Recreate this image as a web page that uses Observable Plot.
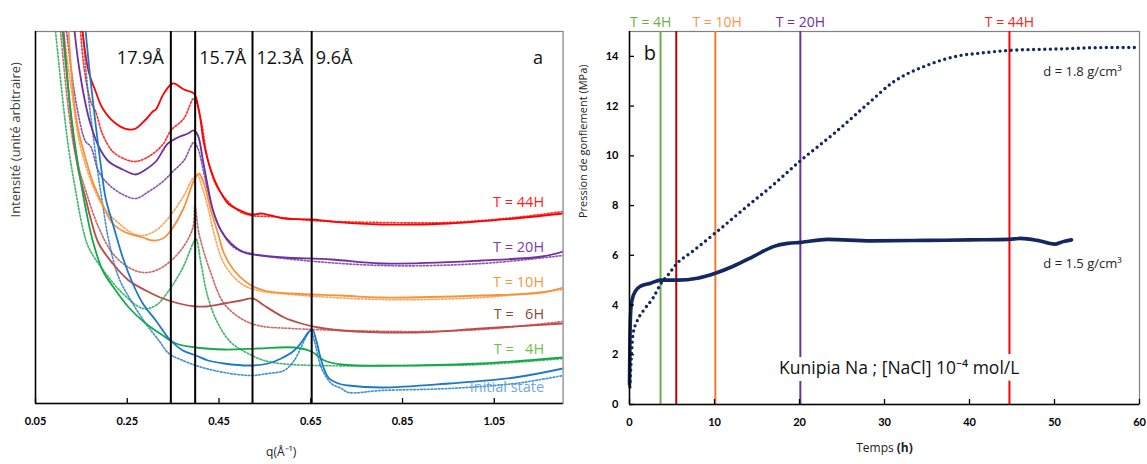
<!DOCTYPE html>
<html><head><meta charset="utf-8">
<script src="https://cdn.jsdelivr.net/npm/d3@7"></script>
<script src="https://cdn.jsdelivr.net/npm/@observablehq/plot@0.6"></script>
<style>
body{margin:0;background:#fff;}
#wrap{position:relative;width:1147px;height:464px;overflow:hidden;background:#fff;}
#pa{position:absolute;left:0;top:0;}
#pb{position:absolute;left:575px;top:0;}
</style></head><body><div id="wrap"><div id="pa"></div><div id="pb"></div></div>
<script>
// ---------- Panel a : intensity vs q (solid = measured curve, dotted = companion curve)
const qTicks = [0.05, 0.25, 0.45, 0.65, 0.85, 1.05];
const dSpacing = ["17.9Å", "15.7Å", "12.3Å", "9.6Å"];
const dSpacingQ = [0.345, 0.398, 0.523, 0.652];
const seriesNames = ["T = 44H", "T = 20H", "T = 10H", "T = \u00a0 6H", "T = \u00a0 4H", "Initial state"];

const q44 = [0.1527,0.1658,0.1811,0.1964,0.2249,0.2533,0.2686,0.2904,0.3057,0.3123,0.3298,0.3495,0.3735,0.3953,0.4063,0.4172,0.4325,0.4478,0.4697,0.4915,0.52,0.5418,0.5637,0.5921,0.6511,0.6948,0.8041,0.9506,1.0948,1.2];
const i44 = [372,332,312,295,280,274,275,284,292,294,310,320,314,310,293,260,233,216,200,194,189,190,188,185,184,182,179,180,185,190];
const q44d = [0.1484,0.1549,0.1702,0.1811,0.1964,0.2183,0.2467,0.2686,0.297,0.3276,0.3451,0.3735,0.3953,0.4107,0.426,0.4478,0.4915,0.52,0.5637,0.6511,0.8041,0.9506,1.0948,1.2];
const i44d = [372,339,302,292,269,252,244,242,247,259,273,285,305,283,243,215,193,188,187,183,181,181,186,192];

const q20 = [0.1352,0.144,0.1593,0.1702,0.1877,0.2096,0.2402,0.2686,0.2904,0.3123,0.3385,0.3604,0.3822,0.3953,0.4041,0.415,0.426,0.4369,0.4544,0.4762,0.5047,0.5418,0.5921,0.6948,0.8041,1.0227,1.1538,1.2];
const i20 = [372,339,299,279,257,242,234,229,234,242,260,266,270,273,268,243,216,193,173,160,151,148,146,144,140,143,147,152];
const q20d = [0.1177,0.1396,0.1593,0.1702,0.1877,0.2096,0.2402,0.2686,0.297,0.3276,0.3495,0.3735,0.3953,0.4041,0.4172,0.4325,0.4544,0.4828,0.52,0.5921,0.8041,1.0227,1.2];
const i20d = [372,298,262,257,232,219,209,205,212,222,232,243,261,255,230,200,173,156,150,145,138,140,148];

const q10 = [0.1221,0.1331,0.144,0.1593,0.1746,0.1964,0.2183,0.2467,0.2839,0.3057,0.3276,0.3451,0.3735,0.3953,0.4063,0.4172,0.4325,0.4478,0.4609,0.4828,0.5134,0.5484,0.6074,0.7167,0.8041,1.0227,1.1538,1.2];
const i10 = [372,305,272,245,222,199,180,171,166,163,165,173,196,223,230,220,193,170,150,133,120,113,110,108,106,108,111,116];
const q10d = [0.1112,0.1309,0.144,0.1593,0.1811,0.203,0.2249,0.262,0.2839,0.3123,0.3407,0.3735,0.3932,0.4041,0.4107,0.426,0.4391,0.4609,0.4981,0.5353,0.6074,0.8041,1.0227,1.2];
const i10d = [372,305,265,238,211,193,183,170,168,173,186,208,225,228,220,196,170,140,120,113,109,104,106,114];

const q6 = [0.1112,0.1309,0.144,0.1593,0.1702,0.1877,0.2183,0.2533,0.2904,0.3276,0.3626,0.3997,0.4216,0.4609,0.4981,0.5243,0.5484,0.5921,0.6292,0.6664,0.7167,0.8762,1.0227,1.2];
const i6 = [372,272,232,205,185,160,140,123,113,105,100,97,97,100,103,105,98,86,80,76,73,71,75,80];
const q6d = [0.1046,0.1221,0.1374,0.1593,0.1877,0.2183,0.2533,0.2839,0.3123,0.3407,0.3713,0.3932,0.3975,0.4063,0.4325,0.4609,0.4981,0.5353,0.6074,0.8762,1.0227,1.2];
const i6d = [372,293,248,213,176,150,136,131,133,141,156,176,198,170,130,100,85,78,75,72,74,82];

const q4 = [0.109,0.1265,0.1396,0.1505,0.1615,0.1746,0.1964,0.2249,0.2533,0.2904,0.3276,0.356,0.3997,0.4609,0.5353,0.6139,0.6511,0.6795,0.7167,0.8762,1.0227,1.2];
const i4 = [372,293,248,217,190,163,133,113,96,80,68,60,56,54,55,56,52,43,39,38,40,46];
const q4d = [0.0937,0.109,0.1221,0.1374,0.1527,0.1658,0.203,0.2402,0.2839,0.3123,0.3407,0.3713,0.3932,0.3997,0.4107,0.426,0.4478,0.4762,0.5134,0.5484,0.6074,0.8762,1.0227,1.2];
const i4d = [372,305,255,213,176,156,130,110,95,98,113,136,160,165,140,106,80,61,50,43,39,38,39,45];

const q0 = [0.1593,0.1702,0.1811,0.1921,0.203,0.2183,0.2402,0.262,0.2839,0.3123,0.3407,0.3713,0.3997,0.426,0.4609,0.52,0.5571,0.5855,0.6139,0.6292,0.6445,0.6533,0.662,0.6729,0.6882,0.7101,0.732,0.8041,0.9506,1.0948,1.2];
const i0 = [372,322,279,239,205,180,146,120,100,83,65,53,48,43,40,38,40,45,53,61,71,74,63,43,26,20,18,16,20,26,35];
const q0d = [0.1527,0.1658,0.1746,0.1855,0.1964,0.2096,0.2314,0.262,0.2904,0.3189,0.3407,0.3713,0.3997,0.4216,0.4609,0.52,0.5571,0.5921,0.6139,0.6358,0.6489,0.6576,0.6729,0.6948,0.7167,0.732,0.8041,0.9506,1.0948,1.2];
const i0d = [372,305,272,232,199,163,126,100,80,63,50,43,38,35,31,28,30,33,43,63,73,63,36,20,15,11,13,15,20,28];

// ---------- Panel b : swelling pressure vs time
const tTicks = [0, 10, 20, 30, 40, 50, 60];
const pTicks = [0, 2, 4, 6, 8, 10, 12, 14];
const t15 = [0,0.05,0.15,0.3,0.7,1.3,2.5,3.65,5.6,8,10.1,12.2,14.6,17,18.6,20.1,23.3,28.4,35,40,44.7,46,48,50,51,52];
const p15 = [0.8,2.5,3.8,4.2,4.56,4.76,4.88,5.0,5.0,5.08,5.28,5.56,5.96,6.36,6.48,6.52,6.64,6.58,6.6,6.62,6.64,6.68,6.6,6.45,6.55,6.62];
const t18 = [0.05,0.2,0.4,0.9,1.6,2.8,3.65,4.6,5.6,7.2,10.1,13.8,17,20.1,24,28,31,35,39,41,44.7,50.7,55,60];
const p18 = [0.7,1.8,2.8,3.36,3.76,4.3,4.84,5.24,5.68,6.1,6.9,7.96,8.86,9.8,10.88,12.08,12.96,13.64,14.04,14.12,14.24,14.3,14.35,14.36];
const timeMarks = [3.65, 5.5, 10.1, 20.1, 44.7];
const timeLabels = ["T = 4H", "T = 10H", "T = 20H", "T = 44H"];
const timeLabelT = [2.5, 10.3, 20.1, 44.7];

// ---------- helpers
const zip = (xs, ys) => xs.slice(0, Math.min(xs.length, ys.length)).map((x, i) => ({x, y: ys[i]}));
const FONT = "Lato, 'Open Sans', sans-serif";
const OS = "'Open Sans', sans-serif";

const seriesA = [
  {s: zip(q44, i44), d: zip(q44d, i44d), c: "#FF0000", lc: "#FF1A1A", ly: 201},
  {s: zip(q20, i20), d: zip(q20d, i20d), c: "#7030A0", lc: "#7A3DAA", ly: 156},
  {s: zip(q10, i10), d: zip(q10d, i10d), c: "#F7923A", lc: "#F79646", ly: 121},
  {s: zip(q6, i6), d: zip(q6d, i6d), c: "#BE4B48", lc: "#8C4A2F", ly: 89},
  {s: zip(q4, i4), d: zip(q4d, i4d), c: "#14A84A", lc: "#6CC24A", ly: 54},
  {s: zip(q0, i0), d: zip(q0d, i0d), c: "#1C78C8", lc: "#6FA8DC", ly: 16}
];
const dLabels = dSpacing.map((label, i) => ({label, q: dSpacingQ[i]}));

const marksA = [Plot.frame({stroke: "#808080", strokeWidth: 1.2})];
for (const sr of seriesA) {
  marksA.push(Plot.line(sr.d, {x: "x", y: "y", stroke: sr.c, strokeWidth: 1.7, strokeDasharray: "1.6 1.9", strokeOpacity: 0.8, curve: "catmull-rom", clip: true}));
}
for (const sr of seriesA) {
  marksA.push(Plot.line(sr.s, {x: "x", y: "y", stroke: sr.c, strokeWidth: 1.8, curve: "catmull-rom", clip: true}));
}
marksA.push(
  Plot.ruleX(dSpacingQ, {x: d => d, stroke: "#000", strokeWidth: 2}),
  Plot.ruleX([0.05], {stroke: "#000", strokeWidth: 1.5}),
  Plot.ruleY([0], {stroke: "#000", strokeWidth: 1.5}),
  Plot.ruleX(qTicks, {x: d => d, insetTop: 367, stroke: "#000", strokeWidth: 1.3}),
  Plot.axisX({ticks: qTicks, tickFormat: d3.format(".2f"), tickSize: 0, tickPadding: 14, fontWeight: "bold", fontSize: 11, label: null}),
  Plot.text(dLabels.slice(0, 1), {x: "q", text: "label", frameAnchor: "top", dy: 20, textAnchor: "end", dx: -7, fontSize: 18, fontFamily: OS, fill: "#111"}),
  Plot.text(dLabels.slice(1), {x: "q", text: "label", frameAnchor: "top", dy: 20, textAnchor: "start", dx: 4, fontSize: 18, fontFamily: OS, fill: "#111"}),
  Plot.text(["a"], {frameAnchor: "top-right", dy: 20, dx: -20, fontSize: 18, fontFamily: OS, fill: "#111"}),
  Plot.text(seriesA.map((sr, i) => ({label: seriesNames[i], y: sr.ly, c: sr.lc})), {frameAnchor: "right", y: "y", text: "label", fill: "c", textAnchor: "end", dx: -19, fontSize: 14.5, fontFamily: OS}),
  Plot.text(["Intensité (unité arbitraire)"], {frameAnchor: "left", rotate: -90, dx: -20, fontSize: 13, fontFamily: OS, fill: "#404040"}),
  Plot.text(["q(Å⁻¹)"], {frameAnchor: "bottom", dy: 52, x: 0.5855, fontSize: 12, fontFamily: OS, fill: "#222"})
);

const plotA = Plot.plot({
  width: 575, height: 464,
  marginLeft: 35, marginRight: 12.4, marginTop: 31, marginBottom: 61,
  x: {domain: [0.05, 1.2]},
  y: {domain: [0, 372], axis: null},
  color: {type: "identity"},
  style: {fontFamily: FONT, fontSize: "11px", color: "#000", background: "#fff", overflow: "visible"},
  marks: marksA
});
document.getElementById("pa").appendChild(plotA);

// ---------- Panel b
const navy = "#13285E";
const lineColors = ["#70AD47", "#C00000", "#ED7D31", "#7030A0", "#FF0000"];
const labelColors = ["#70AD47", "#F79646", "#7030A0", "#FF2020"];
const tLabels = timeLabels.map((label, i) => ({label, t: timeLabelT[i], c: labelColors[i]}));
const tRules = timeMarks.map((t, i) => ({t, c: lineColors[i]}));

const plotB = Plot.plot({
  width: 572, height: 464,
  marginLeft: 54, marginRight: 8, marginTop: 31, marginBottom: 60,
  x: {domain: [0, 60]},
  y: {domain: [0, 15]},
  color: {type: "identity"},
  style: {fontFamily: FONT, fontSize: "11px", color: "#000", background: "#fff", overflow: "visible"},
  marks: [
    Plot.frame({stroke: "#808080", strokeWidth: 1.2}),
    Plot.ruleX(tRules, {x: "t", stroke: "c", strokeWidth: 2}),
    Plot.line(zip(t18, p18), {x: "x", y: "y", stroke: navy, strokeWidth: 3.4, strokeDasharray: "0 5.6", strokeLinecap: "round", curve: "monotone-x"}),
    Plot.line(zip(t15, p15), {x: "x", y: "y", stroke: navy, strokeWidth: 3.6, curve: "monotone-x"}),
    Plot.ruleX([0], {stroke: "#000", strokeWidth: 1.5}),
    Plot.ruleY([0], {stroke: "#000", strokeWidth: 1.5}),
    Plot.ruleX(tTicks, {x: d => d, insetTop: 368, stroke: "#000", strokeWidth: 1.3}),
    Plot.ruleY(pTicks, {y: d => d, insetRight: 505, stroke: "#000", strokeWidth: 1.3}),
    Plot.axisX({ticks: tTicks, tickSize: 0, tickPadding: 14, fontWeight: "bold", fontSize: 11, label: null}),
    Plot.axisY({ticks: pTicks, tickSize: 0, tickPadding: 11, fontWeight: "bold", fontSize: 11, label: null}),
    Plot.text(tLabels, {x: "t", text: "label", frameAnchor: "top", dy: -14, fill: "c", fontSize: 14, fontFamily: OS}),
    Plot.text(["b"], {x: 2.4, y: 14.1, fontSize: 20, fontFamily: OS, fill: "#111"}),
    Plot.text(["d = 1.8 g/cm³"], {x: 53.3, y: 13.36, fontSize: 13, fontFamily: OS, fill: "#262626"}),
    Plot.text(["d = 1.5 g/cm³"], {x: 53.3, y: 5.64, fontSize: 13, fontFamily: OS, fill: "#262626"}),
    Plot.text(["Kunipia Na ; [NaCl] 10⁻⁴ mol/L"], {x: 17.6, y: 1.44, textAnchor: "start", fontSize: 17.5, fontFamily: OS, fill: "#111", stroke: "#fff", strokeWidth: 14, strokeLinejoin: "round"}),
    Plot.text(["Pression de gonflement (MPa)"], {frameAnchor: "left", rotate: -90, dx: -46, fontSize: 11, fontFamily: OS, fill: "#222"}),
    Plot.text(["Temps (h)"], {frameAnchor: "bottom", dy: 47, x: 30, fontSize: 12, fontFamily: OS, fill: "#222"})
  ]
});
document.getElementById("pb").appendChild(plotB);

// bold "(h)" in the x label of panel b
d3.select(plotB).selectAll("text").each(function() {
  if (this.textContent === "Temps (h)") {
    const t = d3.select(this);
    t.text(null);
    t.append("tspan").text("Temps ");
    t.append("tspan").attr("font-weight", "bold").text("(h)");
  }
});
</script>
</body></html>
